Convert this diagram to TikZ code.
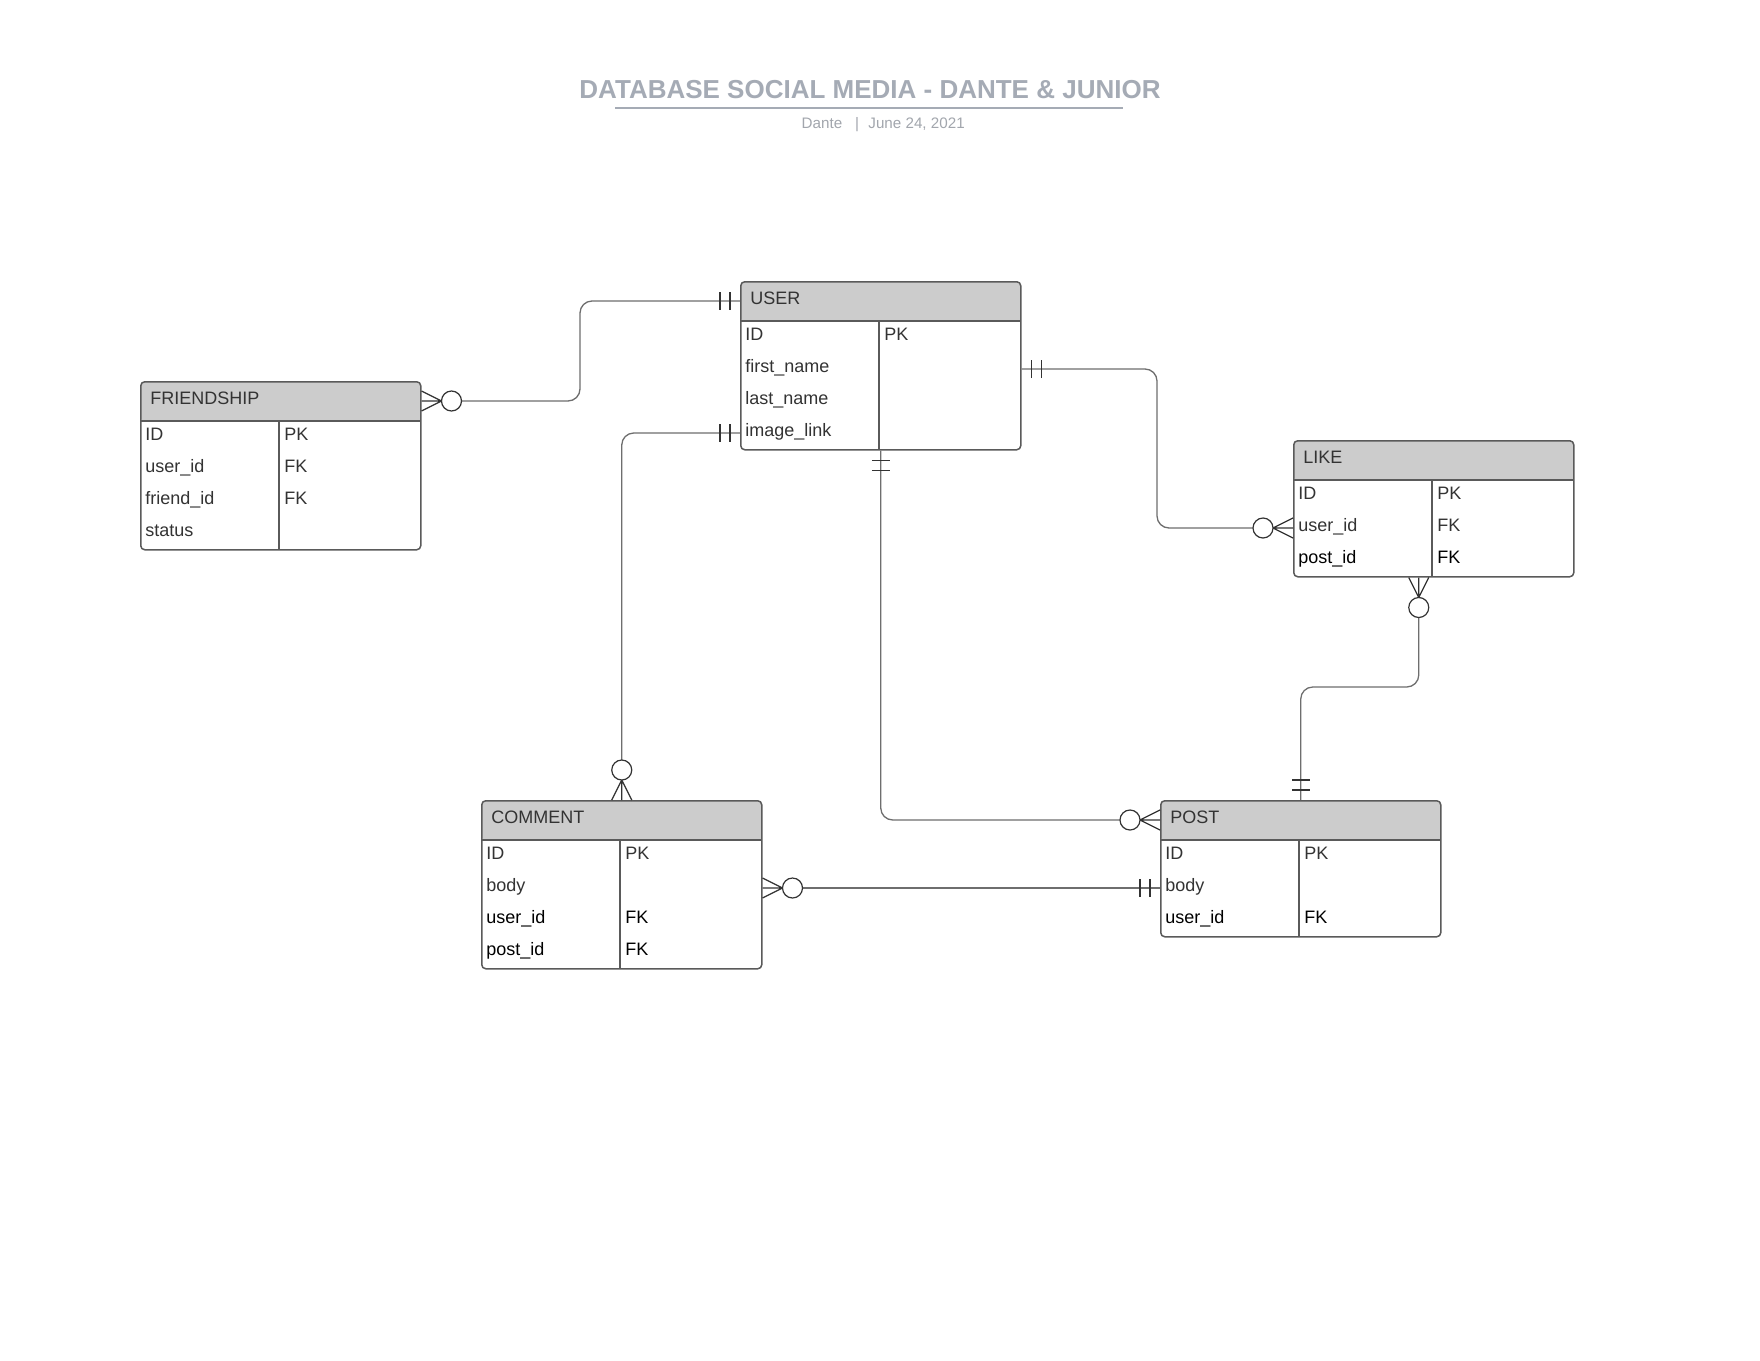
\documentclass[tikz,border=0pt]{standalone}
\usepackage{fontspec}
\setmainfont{Liberation Sans}
\usetikzlibrary{calc}
\definecolor{headfill}{HTML}{CCCCCC}
\definecolor{boxline}{HTML}{5A5A5A}
\definecolor{connline}{HTML}{6E6E6E}
\definecolor{barline}{HTML}{333333}
\definecolor{txt}{HTML}{333333}
\definecolor{titlecol}{HTML}{A5ABB5}
\definecolor{subcol}{HTML}{A2A6AD}
\tikzset{
  entity/.style={draw=boxline, line width=0.75pt, rounded corners=2pt, minimum width=140pt, anchor=north west, inner sep=0pt,
    path picture={\fill[headfill] (path picture bounding box.north west) rectangle ([yshift=-20pt]path picture bounding box.north east);}},
  headtxt/.style={anchor=base west, inner sep=0pt, text=txt, font=\fontsize{9}{11}\selectfont},
  celltxt/.style={anchor=base west, inner sep=0pt, font=\fontsize{9}{11}\selectfont},
  conn/.style={draw=connline, line width=0.65pt, rounded corners=6pt},
  foot/.style={draw=barline, line width=0.6pt},
  bar/.style={draw=barline, line width=0.6pt},
  inner/.style={draw=boxline, line width=0.7pt},
}
% #1 name, #2 x, #3 y, #4 title, #5 nrows
\newcommand{\erentity}[5]{%
  \pgfmathsetmacro\entH{(40+32*#5)/2}
  \node[entity, minimum height=\entH pt] (#1) at (#2,#3) {};
  \draw[inner] ($(#2,#3)+(0,40)$) -- ($(#2,#3)+(280,40)$);
  \draw[inner] ($(#2,#3)+(139,40)$) -- ($(#2,#3)+(139,{40+32*#5})$);
  \node[headtxt] (#1-title) at ($(#2,#3)+(10,23)$) {#4};
}
% #1 entity name, #2 x, #3 y, #4 row index (0-based), #5 left text, #6 right text, #7 colour
\newcommand{\errow}[7]{%
  \node[celltxt, text=#7] (#1-l#4) at ($(#2,#3)+(5,{40+32*#4+19})$) {#5};
  \node[celltxt, text=#7] (#1-r#4) at ($(#2,#3)+(144,{40+32*#4+19})$) {#6};
}
% crow's foot with circle: #1 edge coordinate, #2 dx, #3 dy (unit outward direction)
\newcommand{\crowcircle}[3]{%
  \draw[foot] ($(#1)+({20*#2},{20*#3})$) -- ($(#1)+({-10*#3},{10*#2})$)
              ($(#1)+({20*#2},{20*#3})$) -- (#1)
              ($(#1)+({20*#2},{20*#3})$) -- ($(#1)+({10*#3},{-10*#2})$);
  \draw[foot, fill=white] ($(#1)+({30*#2},{30*#3})$) circle[radius=5pt];
}
% two bars: #1 edge coordinate, #2 dx, #3 dy
\newcommand{\twobars}[3]{%
  \draw[bar] ($(#1)+({10*#2-9*#3},{10*#3+9*#2})$) -- ($(#1)+({10*#2+9*#3},{10*#3-9*#2})$);
  \draw[bar] ($(#1)+({20*#2-9*#3},{20*#3+9*#2})$) -- ($(#1)+({20*#2+9*#3},{20*#3-9*#2})$);
}
\begin{document}
\begin{tikzpicture}[x=0.5pt, y=-0.5pt]
\useasboundingbox (0,0) rectangle (1760,1360);
\fill[white] (0,0) rectangle (1760,1360);

% title
\node[inner sep=0pt, text=titlecol, font=\fontsize{13}{15}\selectfont\bfseries] (title) at (870,90) {DATABASE SOCIAL MEDIA - DANTE \& JUNIOR};
\draw[titlecol, line width=1pt] (615,108) -- (1123,108);
\node[inner sep=0pt, text=subcol, font=\fontsize{7.6}{9}\selectfont, anchor=base] (author) at (822,128) {Dante};
\node[inner sep=0pt, text=subcol, font=\fontsize{7.6}{9}\selectfont, anchor=base] (sep) at (857,128) {|};
\node[inner sep=0pt, text=subcol, font=\fontsize{7.6}{9}\selectfont, anchor=base west] (date) at (868,128) {June 24, 2021};

% entities
\erentity{user}{740}{281}{USER}{4}
\errow{user}{740}{281}{0}{ID}{PK}{txt}
\errow{user}{740}{281}{1}{first\_name}{}{txt}
\errow{user}{740}{281}{2}{last\_name}{}{txt}
\errow{user}{740}{281}{3}{image\_link}{}{txt}

\erentity{friendship}{140}{381}{FRIENDSHIP}{4}
\errow{friendship}{140}{381}{0}{ID}{PK}{txt}
\errow{friendship}{140}{381}{1}{user\_id}{FK}{txt}
\errow{friendship}{140}{381}{2}{friend\_id}{FK}{txt}
\errow{friendship}{140}{381}{3}{status}{}{txt}

\erentity{like}{1293}{440}{LIKE}{3}
\errow{like}{1293}{440}{0}{ID}{PK}{txt}
\errow{like}{1293}{440}{1}{user\_id}{FK}{txt}
\errow{like}{1293}{440}{2}{post\_id}{FK}{black}

\erentity{comment}{481}{800}{COMMENT}{4}
\errow{comment}{481}{800}{0}{ID}{PK}{txt}
\errow{comment}{481}{800}{1}{body}{}{txt}
\errow{comment}{481}{800}{2}{user\_id}{FK}{black}
\errow{comment}{481}{800}{3}{post\_id}{FK}{black}

\erentity{post}{1160}{800}{POST}{3}
\errow{post}{1160}{800}{0}{ID}{PK}{txt}
\errow{post}{1160}{800}{1}{body}{}{txt}
\errow{post}{1160}{800}{2}{user\_id}{FK}{black}

% connection points on entity edges
\coordinate (fr-e) at ([yshift=-10pt]friendship.north east);
\coordinate (us-w0) at ([yshift=-10pt]user.north west);
\coordinate (us-w4) at ([yshift=-76pt]user.north west);
\coordinate (us-e1) at ([yshift=-44pt]user.north east);
\coordinate (us-s) at (user.south);
\coordinate (lk-w) at ([yshift=-44pt]like.north west);
\coordinate (lk-s) at ([xshift=-7.5pt]like.south);
\coordinate (cm-n) at (comment.north);
\coordinate (cm-e) at ([yshift=-44pt]comment.north east);
\coordinate (po-w0) at ([yshift=-10pt]post.north west);
\coordinate (po-w1) at ([yshift=-44pt]post.north west);
\coordinate (po-n) at (post.north);

% FRIENDSHIP -- USER
\draw[conn] ($(fr-e)+(40,0)$) -- (fr-e -| 580,0) -- (us-w0 -| 580,0) -- (us-w0);
\crowcircle{fr-e}{1}{0}
\twobars{us-w0}{-1}{0}

% USER -- COMMENT
\draw[conn] (us-w4) -- (us-w4 -| cm-n) -- ($(cm-n)+(0,-40)$);
\twobars{us-w4}{-1}{0}
\crowcircle{cm-n}{0}{-1}

% USER -- POST
\draw[conn] (us-s) -- (us-s |- po-w0) -- ($(po-w0)+(-40,0)$);
\twobars{us-s}{0}{1}
\crowcircle{po-w0}{-1}{0}

% USER -- LIKE
\draw[conn] (us-e1) -- (us-e1 -| 1157,0) -- (lk-w -| 1157,0) -- ($(lk-w)+(-40,0)$);
\twobars{us-e1}{1}{0}
\crowcircle{lk-w}{-1}{0}

% LIKE -- POST
\draw[conn] ($(lk-s)+(0,40)$) -- (lk-s |- 0,687) -- (po-n |- 0,687) -- (po-n);
\crowcircle{lk-s}{0}{1}
\twobars{po-n}{0}{-1}

% COMMENT -- POST
\draw[conn] ($(cm-e)+(40,0)$) -- (po-w1);
\crowcircle{cm-e}{1}{0}
\twobars{po-w1}{-1}{0}
\end{tikzpicture}
\end{document}
